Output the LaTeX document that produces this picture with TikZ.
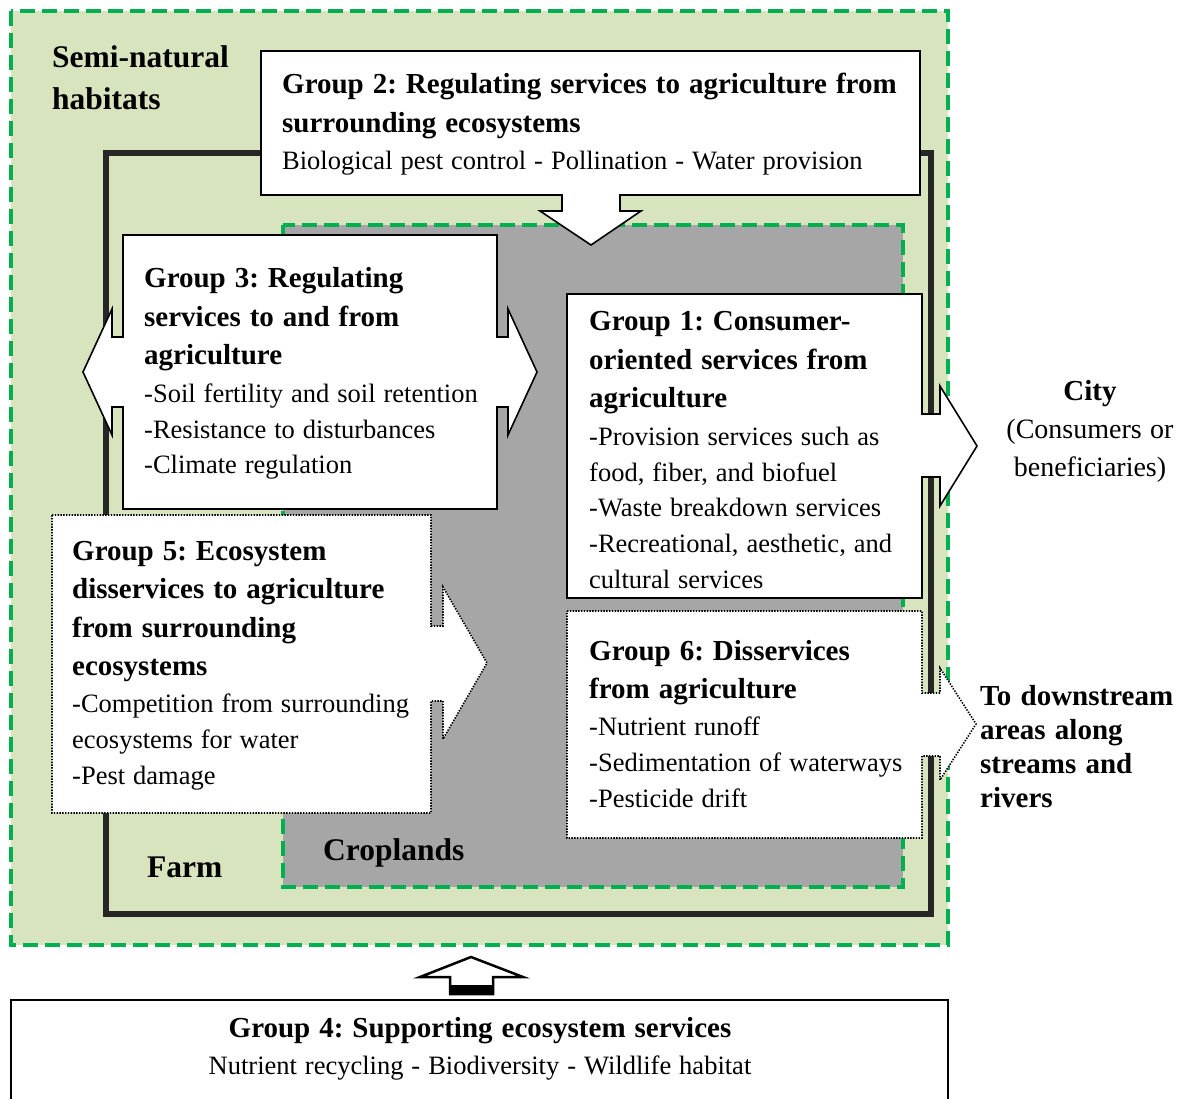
\documentclass[tikz,border=0pt]{standalone}
\usepackage{fontspec}
\setmainfont{Liberation Serif}
\usetikzlibrary{positioning}

\definecolor{seminat}{HTML}{D7E4BD}
\definecolor{cropgray}{HTML}{A6A6A6}
\definecolor{habgreen}{HTML}{00B050}
\definecolor{farmline}{HTML}{262626}
\setlength{\parindent}{0pt}
\frenchspacing

\newcommand{\ttlfont}{\fontsize{29}{38.5}\selectfont\bfseries\spaceskip=0.31em\relax}
\newcommand{\bdyfont}{\fontsize{26.5}{35.8}\selectfont\spaceskip=0.3em\relax}
\newcommand{\lblfont}{\fontsize{31.5}{42}\selectfont\bfseries\spaceskip=0.32em\relax}
\newcommand{\grptext}[2]{{\ttlfont #1\par}\vskip1.5pt{\bdyfont #2\par}}

\tikzset{
    callout/.style={draw=black, fill=white, line width=1.6pt, line join=miter},
    dotcallout/.style={callout, dash pattern=on 1.4pt off 1.4pt},
    zonedash/.style={draw=habgreen, line width=3.5pt, dash pattern=on 15pt off 7pt},
    grouptext/.style={anchor=base west, inner sep=0pt, align=left, text width=#1}
}

\begin{document}
\begin{tikzpicture}[x=1pt, y=-1pt]
        \useasboundingbox (0,0) rectangle (1184,1099);

        % zones
        \path[fill=seminat, zonedash] (11,11) rectangle (948,945);
        \draw[farmline, line width=6.5pt] (106,153) rectangle (931,914);
        \path[fill=cropgray, zonedash] (283,225) rectangle (903,887);

        % callouts
        \path[callout] (261,51) -- (920,51) -- (920,195) -- (620,195) -- (620,211)
            -- (641,211) -- (591,245) -- (540,211) -- (562,211) -- (562,195)
            -- (261,195) -- cycle;
        \path[callout] (123,235) -- (497,235) -- (497,337) -- (508,337) -- (508,309)
            -- (537,372) -- (508,435) -- (508,407) -- (497,407) -- (497,509)
            -- (123,509) -- (123,407) -- (112,407) -- (112,435) -- (83,372)
            -- (112,309) -- (112,337) -- (123,337) -- cycle;
        \path[callout] (567,294) -- (922,294) -- (922,414) -- (940,414) -- (940,386)
            -- (977,446) -- (940,506) -- (940,477) -- (922,477) -- (922,598)
            -- (567,598) -- cycle;
        \path[dotcallout] (52,515) -- (431,515) -- (431,626) -- (443,626) -- (443,587)
            -- (487,663) -- (443,739) -- (443,701) -- (431,701) -- (431,813)
            -- (52,813) -- cycle;
        \path[dotcallout] (567,611) -- (922,611) -- (922,693) -- (940,693) -- (940,668)
            -- (976,724) -- (940,780) -- (940,756) -- (922,756) -- (922,838)
            -- (567,838) -- cycle;

        % group 4 box and arrow
        \draw[line width=1.6pt] (11,1110) -- (11,1000) -- (948,1000) -- (948,1110);
        \draw[line width=2.5pt, fill=white] (450,994) -- (450,977) -- (420,977)
            -- (471,957) -- (523,977) -- (493,977) -- (493,994) -- cycle;
        \fill (450,985) rectangle (493,995);

        % labels
        \node[grouptext=220pt](seminatural) at (52,68){\lblfont Semi-natural\\habitats\par};
        \node[grouptext=120pt](farm) at (147,877){\lblfont Farm\par};
        \node[grouptext=200pt](croplands) at (323,860){\lblfont Croplands\par};

        \node[grouptext=660pt](grp2) at (282,94){\grptext{Group 2: Regulating services to agriculture from\\surrounding ecosystems}{Biological pest control - Pollination - Water provision}};
        \node[grouptext=370pt](grp3) at (144,288){\grptext{Group 3: Regulating\\services to and from\\agriculture}{-Soil fertility and soil retention\\-Resistance to disturbances\\-Climate regulation}};
        \node[grouptext=340pt](grp1) at (589,331){\grptext{Group 1: Consumer-\\oriented services from\\agriculture}{-Provision services such as\\food, fiber, and biofuel\\-Waste breakdown services\\-Recreational, aesthetic, and\\cultural services}};
        \node[grouptext=370pt](grp5) at (72,560){\grptext{Group 5: Ecosystem\\disservices to agriculture\\from surrounding\\ecosystems}{-Competition from surrounding\\ecosystems for water\\-Pest damage}};
        \node[grouptext=340pt](grp6) at (589,660){\grptext{Group 6: Disservices\\from agriculture}{-Nutrient runoff\\-Sedimentation of waterways\\-Pesticide drift}};

        \node[
            anchor=base,
            inner sep=0pt,
            align=center,
            text width=220pt
        ](city) at (1090,400){{\ttlfont City\par}{\fontsize{28}{38.5}\selectfont\spaceskip=0.3em\relax (Consumers or\\beneficiaries)\par}};
        \node[grouptext=220pt](downstream) at (980,705){\fontsize{29}{34}\selectfont\bfseries\spaceskip=0.32em\relax To downstream\\areas along\\streams and\\rivers\par};

        \node[
            anchor=base,
            inner sep=0pt,
            align=center,
            text width=900pt
        ](grp4) at (480,1037){\grptext{Group 4: Supporting ecosystem services}{Nutrient recycling - Biodiversity - Wildlife habitat}};
\end{tikzpicture}
\end{document}
